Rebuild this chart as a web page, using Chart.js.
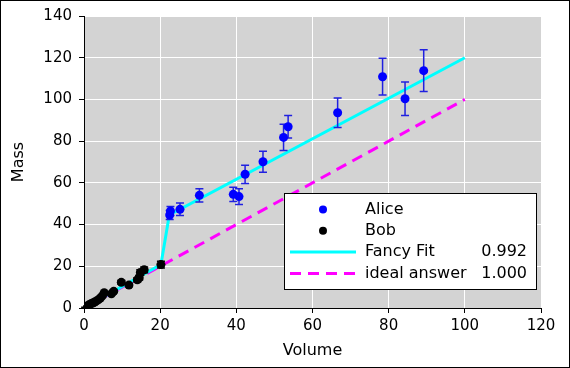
<!DOCTYPE html>
<html>
<head>
<meta charset="utf-8">
<script src="https://cdn.jsdelivr.net/npm/chart.js@4/dist/chart.umd.min.js"></script>
<style>
  body { margin: 0; background: #fff; }
  canvas { display: block; }
</style>
</head>
<body>
<canvas id="chart" width="570" height="368"></canvas>
<script>
// Alice: blue points with error bars
const aliceX   = [22.5, 22.7, 25.2, 30.3, 39.2, 40.7, 42.3, 47.0, 52.4, 53.6, 66.6, 78.4, 84.3, 89.2];
const aliceY   = [44.6, 46.5, 47.3, 54.0, 54.5, 53.4, 64.1, 70.1, 81.8, 86.9, 93.6, 110.9, 100.3, 113.8];
const aliceErr = [2.2, 2.2, 3.0, 3.2, 3.4, 3.8, 4.4, 5.0, 6.3, 5.4, 7.1, 8.8, 8.0, 10.0];

// Bob: black points, small error bars
const bobX   = [0.3, 0.8, 1.3, 1.8, 2.3, 2.8, 3.3, 3.8, 4.3, 4.8, 5.3, 7.2, 7.8, 9.8, 11.8, 14.0, 14.5, 14.8, 15.8, 20.2];
const bobY   = [0.3, 0.9, 1.5, 2.0, 2.4, 2.9, 3.4, 4.0, 4.8, 5.8, 7.3, 6.8, 8.0, 12.3, 11.0, 13.5, 14.5, 17.0, 18.3, 20.8];
const bobErr = [0.1, 0.1, 0.1, 0.2, 0.2, 0.2, 0.3, 0.3, 0.4, 0.4, 0.5, 0.5, 0.6, 0.9, 0.8, 1.0, 1.1, 1.3, 1.4, 1.6];

// fitted curve and the ideal y = x line
const fitX   = [0, 20.2, 22.4, 100];
const fitY   = [0, 20.8, 44.6, 120];
const idealX = [0, 100];
const idealY = [0, 100];

const legendScores = ['', '', '0.992', '1.000'];

const xTicks = [0, 20, 40, 60, 80, 100, 120];
const yTicks = [0, 20, 40, 60, 80, 100, 120, 140];

const FONT = '"DejaVu Sans", sans-serif';

function pts(xs, ys) {
    return xs.map((x, i) => ({ x: x, y: ys[i] }));
}

const frame = {
    id: 'frame',
    beforeDraw(chart) {
        const { ctx, chartArea: a } = chart;
        ctx.save();
        ctx.fillStyle = '#fff';
        ctx.fillRect(0, 0, chart.width, chart.height);
        ctx.fillStyle = '#d3d3d3';
        ctx.fillRect(a.left, a.top, a.right - a.left, a.bottom - a.top);
        ctx.strokeStyle = '#000';
        ctx.lineWidth = 1;
        ctx.strokeRect(0.5, 0.5, chart.width - 1, chart.height - 1);
        ctx.restore();
    }
};

// draw error bars right before each point dataset
const errorBars = {
    id: 'errorBars',
    beforeDatasetDraw(chart, args) {
        const ds = chart.data.datasets[args.index];
        if (!ds.errors) return;
        const sx = chart.scales.x, sy = chart.scales.y, ctx = chart.ctx;
        ctx.save();
        ctx.strokeStyle = ds.errorColor;
        ctx.lineWidth = 1.5;
        ds.data.forEach((p, i) => {
            const px = sx.getPixelForValue(p.x);
            const top = sy.getPixelForValue(p.y + ds.errors[i]);
            const bot = sy.getPixelForValue(p.y - ds.errors[i]);
            ctx.beginPath();
            ctx.moveTo(px, top); ctx.lineTo(px, bot);
            ctx.moveTo(px - 4, top); ctx.lineTo(px + 4, top);
            ctx.moveTo(px - 4, bot); ctx.lineTo(px + 4, bot);
            ctx.stroke();
        });
        ctx.restore();
    }
};

const legendBox = {
    id: 'legendBox',
    afterDraw(chart) {
        const { ctx, chartArea: a } = chart;
        const left = a.right - 257, top = a.top + 177, w = 252, h = 96;
        ctx.save();
        ctx.fillStyle = '#fff';
        ctx.fillRect(left, top, w, h);
        ctx.strokeStyle = '#000';
        ctx.lineWidth = 1;
        ctx.strokeRect(left + 0.5, top + 0.5, w, h);
        ctx.font = '16px ' + FONT;
        ctx.textBaseline = 'middle';
        chart.data.datasets.forEach((ds, i) => {
            const cy = top + 16.5 + i * 21.3;
            if (ds.showLine) {
                ctx.strokeStyle = ds.borderColor;
                ctx.lineWidth = 3;
                ctx.setLineDash(ds.borderDash || []);
                ctx.beginPath();
                ctx.moveTo(left + 6, cy);
                ctx.lineTo(left + 72, cy);
                ctx.stroke();
                ctx.setLineDash([]);
            } else {
                ctx.fillStyle = ds.backgroundColor;
                ctx.beginPath();
                ctx.arc(left + 39, cy, 4, 0, Math.PI * 2);
                ctx.fill();
            }
            ctx.fillStyle = '#000';
            ctx.textAlign = 'left';
            ctx.fillText(ds.label, left + 81, cy);
            if (legendScores[i]) {
                ctx.textAlign = 'right';
                ctx.fillText(legendScores[i], left + 243, cy);
            }
        });
        ctx.restore();
    }
};

new Chart(document.getElementById('chart'), {
    type: 'scatter',
    data: {
        datasets: [
            {
                label: 'Alice',
                data: pts(aliceX, aliceY),
                errors: aliceErr,
                errorColor: '#2020e0',
                backgroundColor: '#0000ff',
                borderColor: '#0000ff',
                pointRadius: 4.5,
                pointBorderWidth: 0
            },
            {
                label: 'Bob',
                data: pts(bobX, bobY),
                errors: bobErr,
                errorColor: '#000',
                backgroundColor: '#000',
                borderColor: '#000',
                pointRadius: 4.5,
                pointBorderWidth: 0
            },
            {
                label: 'Fancy Fit',
                data: pts(fitX, fitY),
                showLine: true,
                borderColor: '#00ffff',
                borderWidth: 3,
                pointRadius: 0
            },
            {
                label: 'ideal answer',
                data: pts(idealX, idealY),
                showLine: true,
                borderColor: '#ff00ff',
                borderWidth: 3,
                borderDash: [11, 7],
                pointRadius: 0
            }
        ]
    },
    options: {
        responsive: false,
        animation: false,
        devicePixelRatio: 1,
        layout: { padding: { top: 16, right: 29, left: 0, bottom: 0 } },
        plugins: { legend: { display: false }, tooltip: { enabled: false } },
        scales: {
            x: {
                type: 'linear', min: 0, max: 120,
                afterBuildTicks: s => { s.ticks = xTicks.map(v => ({ value: v })); },
                afterFit: s => { s.height = 60; },
                ticks: { color: '#000', font: { family: FONT, size: 15 }, padding: 4, maxRotation: 0 },
                grid: { color: '#fff', lineWidth: 1, tickColor: '#000', tickLength: 5 },
                border: { color: '#000', width: 1 },
                title: { display: true, text: 'Volume', color: '#000', font: { family: FONT, size: 16 }, padding: { top: 0, bottom: 8 } }
            },
            y: {
                type: 'linear', min: 0, max: 140,
                afterBuildTicks: s => { s.ticks = yTicks.map(v => ({ value: v })); },
                afterFit: s => { s.width = 84; },
                ticks: { color: '#000', font: { family: FONT, size: 15 }, padding: 7 },
                grid: { color: '#fff', lineWidth: 1, tickColor: '#000', tickLength: 5 },
                border: { color: '#000', width: 1 },
                title: { display: true, text: 'Mass', color: '#000', font: { family: FONT, size: 16 }, padding: { top: 9, bottom: 0 } }
            }
        }
    },
    plugins: [frame, errorBars, legendBox]
});
</script>
</body>
</html>
